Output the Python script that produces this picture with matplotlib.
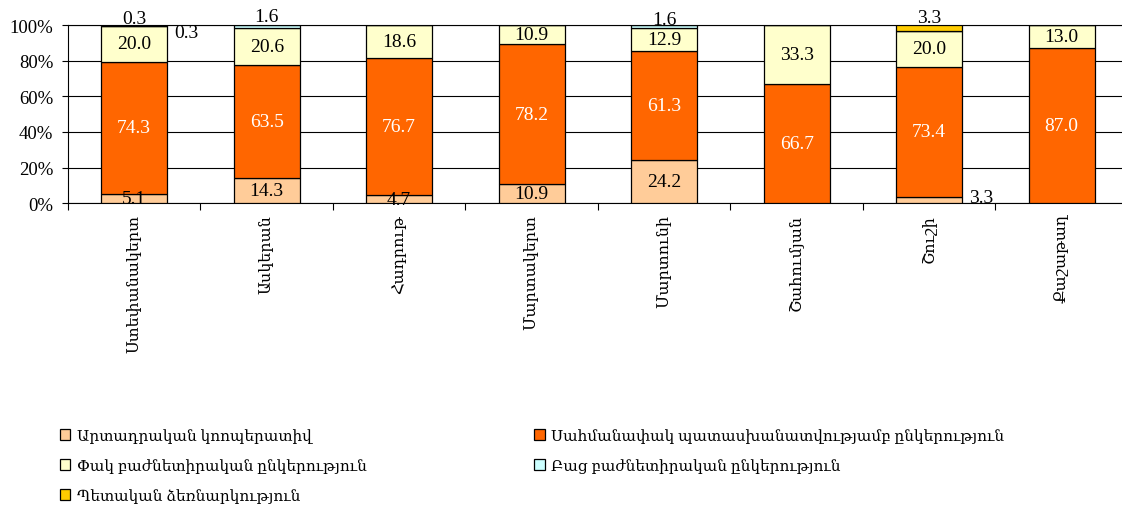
#!/usr/bin/env python3

import numpy as np
import matplotlib
matplotlib.use('Agg')
import matplotlib.pyplot as plt
from matplotlib.patches import Patch

plt.rcParams['font.family'] = ['Liberation Serif', 'DejaVu Serif']

# Regions and shares (%) per legal form, bottom to top of each bar.
regions = ['Ստեփանակերտ', 'Ասկերան', 'Հադրութ', 'Մարտակերտ',
           'Մարտունի', 'Շահումյան', 'Շուշի', 'Քաշաթաղ']
series_names = ['Արտադրական կոոպերատիվ',
                'Սահմանափակ պատասխանատվությամբ ընկերություն',
                'Փակ բաժնետիրական ընկերություն',
                'Բաց բաժնետիրական ընկերություն',
                'Պետական ձեռնարկություն']
coop = [5.1, 14.3, 4.7, 10.9, 24.2, 0.0, 3.3, 0.0]
llc = [74.3, 63.5, 76.7, 78.2, 61.3, 66.7, 73.4, 87.0]
closed_jsc = [20.0, 20.6, 18.6, 10.9, 12.9, 33.3, 20.0, 13.0]
open_jsc = [0.3, 1.6, 0.0, 0.0, 1.6, 0.0, 0.0, 0.0]
state = [0.3, 0.0, 0.0, 0.0, 0.0, 0.0, 3.3, 0.0]

colors = ['#FFCC99', '#FF6600', '#FFFFCC', '#CCFFFF', '#FFCC00']
label_colors = ['black', 'white', 'black', 'black', 'black']

# Labels that were moved off their segment: (series, region) -> (dx, y)
moved_labels = {
    (3, 0): (0.39, 96.0),
    (4, 0): (0.0, 103.5),
    (3, 1): (0.0, 104.5),
    (3, 4): (0.0, 103.0),
    (4, 6): (0.0, 104.0),
    (0, 6): (0.39, 3.3),
}

data = np.array([coop, llc, closed_jsc, open_jsc, state])
x = np.arange(len(regions))

fig = plt.figure(figsize=(11.22, 5.06), dpi=100)
ax = fig.add_axes([0.0606, 0.5962, 0.9447, 0.3524])

bottom = np.zeros(len(regions))
for i, vals in enumerate(data):
    ax.bar(x, vals, width=0.5, bottom=bottom, color=colors[i],
           edgecolor='black', linewidth=0.9, zorder=3)
    for j, v in enumerate(vals):
        if v <= 0:
            continue
        if (i, j) in moved_labels:
            dx, ty = moved_labels[(i, j)]
            ax.text(x[j] + dx, ty, f'{v:.1f}', ha='center', va='center',
                    fontsize=14, color='black', zorder=4, clip_on=False)
        else:
            ax.text(x[j], bottom[j] + v / 2, f'{v:.1f}', ha='center',
                    va='center', fontsize=14, color=label_colors[i], zorder=4)
    bottom += vals

ax.set_xlim(-0.5, len(regions) - 0.5)
ax.set_ylim(0, 100)
ax.set_yticks(np.arange(0, 101, 20))
ax.set_yticklabels([f'{t}%' for t in range(0, 101, 20)], fontsize=13.5)
ax.yaxis.grid(True, color='black', linewidth=0.8, zorder=0)
ax.tick_params(axis='y', length=4.5, width=0.8, direction='out', pad=6)

# category labels in the middle, tick marks on the boundaries
ax.set_xticks(x)
ax.set_xticklabels(regions, rotation=90, fontsize=11.5, va='top')
ax.tick_params(axis='x', which='major', length=0, pad=8)
ax.set_xticks(np.arange(len(regions) + 1) - 0.5, minor=True)
ax.tick_params(axis='x', which='minor', length=5, width=0.8, direction='out')

for side in ['left', 'bottom', 'top']:
    ax.spines[side].set_color('black')
    ax.spines[side].set_linewidth(0.8)
ax.spines['right'].set_visible(False)

handles = [Patch(facecolor=c, edgecolor='black', linewidth=0.9) for c in colors]
order = [0, 2, 4, 1, 3]
fig.legend([handles[k] for k in order], [series_names[k] for k in order],
           ncol=2, loc='upper left', bbox_to_anchor=(0.041, 0.179),
           frameon=False, fontsize=11, handlelength=0.7, handleheight=0.7,
           handletextpad=0.4, columnspacing=11.0, labelspacing=0.98)

fig.savefig('out.png', dpi=100)
plt.close(fig)
